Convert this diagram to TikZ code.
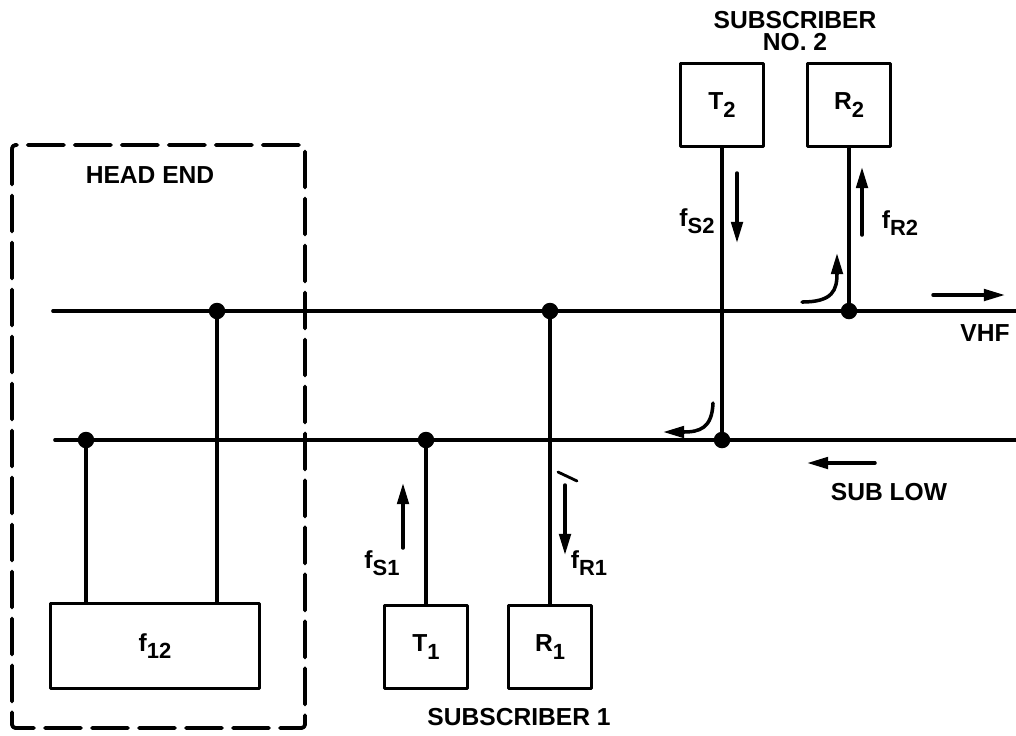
\documentclass[tikz,border=0pt]{standalone}
\usepackage{fontspec}
\setmainfont{Liberation Sans}
\usetikzlibrary{arrows.meta,positioning}
\newcommand{\lsub}[1]{\raisebox{-0.55ex}{\fontsize{12.5}{13}\selectfont #1}}

\begin{document}
\begin{tikzpicture}[x=0.02cm, y=-0.02cm, line cap=round, line join=round,
  every node/.style={font=\fontsize{14}{15}\selectfont\bfseries},
  wire/.style={line width=2.1pt},
  unit/.style={draw, line width=1.9pt, minimum width=1.66cm, minimum height=1.66cm, inner sep=0pt},
  tap/.style={circle, fill, inner sep=0pt, minimum size=0.33cm},
  sig/.style={line width=2pt, -{Triangle[length=12pt,width=6.5pt]}}]
  \useasboundingbox (0,0) rectangle (1016,735);

  % Head end enclosure
  \draw[line width=2.2pt, dash pattern=on 0.72cm off 0.22cm, rounded corners=2pt] (12,145) rectangle (305,728);
  \node (head) at (150,175) {HEAD END};

  % Trunk lines
  \coordinate (vhfL) at (53,311);  \coordinate (vhfR) at (1016,311);
  \coordinate (lowL) at (55,440);  \coordinate (lowR) at (1016,440);
  \draw[wire] (vhfL) -- (vhfR);
  \draw[wire] (lowL) -- (lowR);

  % Units
  \node[unit, minimum width=4.18cm, minimum height=1.7cm] (f12) at (155,646) {f\lsub{12}};
  \node[unit] (T1) at (426,647) {T\lsub{1}};
  \node[unit] (R1) at (550,647) {R\lsub{1}};
  \node[unit] (T2) at (722,105) {T\lsub{2}};
  \node[unit] (R2) at (849,105) {R\lsub{2}};

  % Taps on the trunk
  \node[tap] (h1) at (86,440) {};
  \node[tap] (h2) at (217,311) {};
  \node[tap] (s1t) at (T1 |- lowL) {};
  \node[tap] (s1r) at (R1 |- vhfL) {};
  \node[tap] (s2t) at (T2 |- lowL) {};
  \node[tap] (s2r) at (R2 |- vhfL) {};

  % Drops
  \draw[wire] (h1.center) -- (h1 |- f12.north);
  \draw[wire] (h2.center) -- (h2 |- f12.north);
  \draw[wire] (s1t.center) -- (T1.north);
  \draw[wire] (s1r.center) -- (R1.north);
  \draw[wire] (T2.south) -- (s2t.center);
  \draw[wire] (R2.south) -- (s2r.center);

  % Signal directions
  \draw[sig] (737,173) -- (737,243);
  \draw[sig] (862,235) -- (862,167);
  \draw[sig] (403,548) -- (403,483);
  \draw[sig] (565,485) -- (565,555);
  \draw[sig] (933,295) -- (1005,295);
  \draw[sig] (875,463) -- (807,463);
  \draw[sig] (802,302) .. controls (833,302) and (837,290) .. (837,253);
  \draw[sig] (713,403) .. controls (712,428) and (700,432) .. (663,432);
  \draw[line width=1.6pt] (558,472) -- (577,481);

  % Labels
  \node (fS2) at (697,221) {f\lsub{S2}};
  \node (fR2) at (900,223) {f\lsub{R2}};
  \node (fS1) at (382,563) {f\lsub{S1}};
  \node (fR1) at (589,563) {f\lsub{R1}};
  \node[align=center, font=\fontsize{14}{12.5}\selectfont\bfseries] (sub2) at (795,31) {SUBSCRIBER\\NO. 2};
  \node (sub1) at (519,717) {SUBSCRIBER 1};
  \node (vhf) at (985,333) {VHF};
  \node (sublow) at (889,492) {SUB LOW};
\end{tikzpicture}
\end{document}
